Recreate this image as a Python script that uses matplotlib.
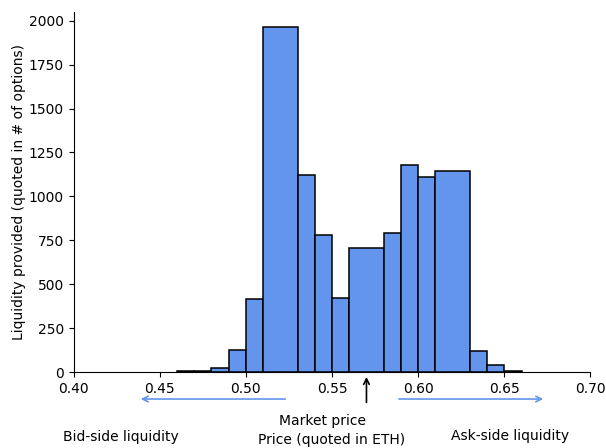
import matplotlib
matplotlib.use("Agg")
import matplotlib.pyplot as plt
import numpy as np

# bin edges (price in ETH) and liquidity per bin
bin_edges = [0.46, 0.47, 0.48, 0.49, 0.50, 0.51, 0.53, 0.54, 0.55, 0.56,
             0.58, 0.59, 0.60, 0.61, 0.63, 0.64, 0.65, 0.66]
liquidity = [4, 5, 22, 125, 418, 1962, 1122, 782, 422, 708,
             790, 1180, 1112, 1147, 122, 38, 6]
market_price = 0.570
xticks = [0.40, 0.45, 0.50, 0.55, 0.60, 0.65, 0.70]

edges = np.array(bin_edges)
widths = np.diff(edges)

fig = plt.figure(figsize=(6.06, 4.48), dpi=100)
ax = fig.add_axes([0.1213, 0.1696, 0.8531, 0.8036])

ax.bar(edges[:-1], liquidity, width=widths, align="edge",
       color="cornflowerblue", edgecolor="black", linewidth=1.1)

ax.set_xlim(0.40, 0.70)
ax.set_xticks(xticks)
ax.set_xticklabels(["%.2f" % t for t in xticks])
ax.set_ylim(0, 2050)
ax.set_yticks(np.arange(0, 2001, 250))
ax.spines["top"].set_visible(False)
ax.spines["right"].set_visible(False)

ax.set_ylabel("Liquidity provided (quoted in # of options)", labelpad=2)
ax.set_xlabel("Price (quoted in ETH)", labelpad=27)

tr = ("data", "axes fraction")
# market price arrow
ax.annotate("", xy=(market_price, -0.006), xytext=(market_price, -0.092),
            xycoords=tr, textcoords=tr, annotation_clip=False,
            arrowprops=dict(arrowstyle="->", color="black", lw=1.2))
ax.annotate("Market price", xy=(0.5442, -0.135), xycoords=tr,
            ha="center", va="center", annotation_clip=False)

# bid / ask arrows
ax.annotate("", xy=(0.4374, -0.075), xytext=(0.5245, -0.075),
            xycoords=tr, textcoords=tr, annotation_clip=False,
            arrowprops=dict(arrowstyle="->", color="cornflowerblue", lw=1.2))
ax.annotate("", xy=(0.6742, -0.075), xytext=(0.5872, -0.075),
            xycoords=tr, textcoords=tr, annotation_clip=False,
            arrowprops=dict(arrowstyle="->", color="cornflowerblue", lw=1.2))
ax.annotate("Bid-side liquidity", xy=(0.4276, -0.180), xycoords=tr,
            ha="center", va="center", annotation_clip=False)
ax.annotate("Ask-side liquidity", xy=(0.6533, -0.178), xycoords=tr,
            ha="center", va="center", annotation_clip=False)

fig.savefig("out.png", dpi=100)
